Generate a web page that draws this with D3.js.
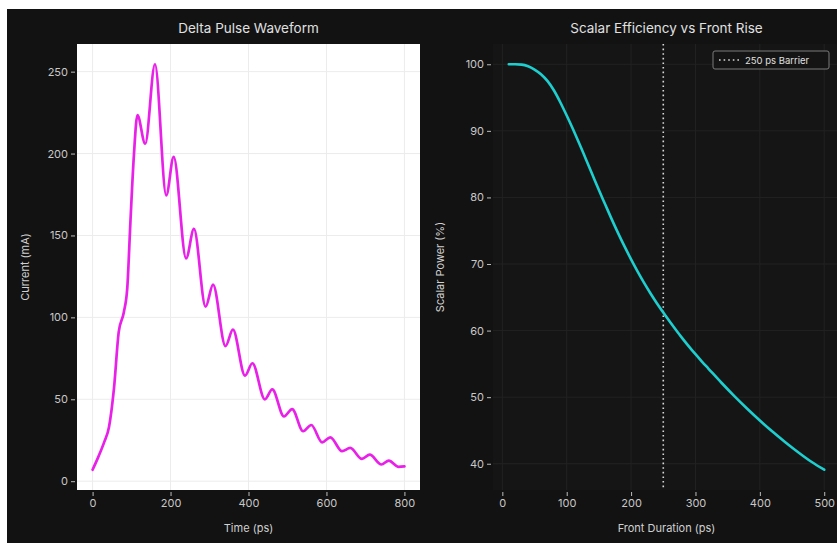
<!DOCTYPE html>
<html><head><meta charset="utf-8">
<script src="https://cdn.jsdelivr.net/npm/d3@7"></script>
<style>
html,body{margin:0;padding:0;background:#fff;}
svg{display:block;font-family:Inter, "DejaVu Sans", sans-serif;}
</style></head>
<body>
<svg id="c" width="837" height="543"></svg>
<script>
// Left panel: Delta Pulse Waveform
const pulseTime = [0,15,30,42,55,67,80,89,97,106,115,135,160,189,208,240,260,290,309,341,360,391,410,442,461,491,512,540,561,589,610,640,661,691,711,741,760,785,800];
const pulseCurrent = [7,15,24,33,57,91,103,118,158,199,223.5,206,254.5,174.5,198,136,154,106.5,120,82.5,92.5,64.5,72,50,56,39.5,44,30.5,34.3,23.7,26.8,18.3,20.3,13.6,16.2,10.2,12.6,8.8,9];
const pulseXTicks = [0,200,400,600,800];
const pulseYTicks = [0,50,100,150,200,250];

// Right panel: Scalar Efficiency vs Front Rise
const frontDuration = [10,20,30,40,50,60,70,80,90,100,110,120,130,140,150,160,170,180,190,200,210,220,230,240,250,260,270,280,290,300,310,320,340,360,380,400,420,440,460,480,500];
const scalarPower = [100,100,99.95,99.7,99.2,98.5,97.5,96.1,94.3,92.3,90.2,88.0,85.7,83.4,81.1,78.9,76.7,74.6,72.6,70.7,68.9,67.2,65.6,64.1,62.7,61.35,60.05,58.8,57.6,56.45,55.35,54.3,52.2,50.2,48.3,46.5,44.8,43.2,41.7,40.3,39.1];
const effXTicks = [0,100,200,300,400,500];
const effYTicks = [40,50,60,70,80,90,100];
const barrier = 250;

const svg = d3.select("#c");
svg.append("rect").attr("x",7).attr("y",9).attr("width",830).attr("height",534).attr("fill","#121212");

function pad(ext){const r=ext[1]-ext[0];return [ext[0]-0.05*r, ext[1]+0.05*r];}

function panel(o){
  const g = svg.append("g");
  const x = d3.scaleLinear().domain(pad(d3.extent(o.xs))).range([o.x0,o.x1]);
  const y = d3.scaleLinear().domain(pad(d3.extent(o.ys))).range([o.y1,o.y0]);
  g.append("rect").attr("x",o.x0).attr("y",o.y0).attr("width",o.x1-o.x0).attr("height",o.y1-o.y0).attr("fill",o.face);
  g.selectAll(".gx").data(o.xt).enter().append("line")
    .attr("x1",d=>x(d)).attr("x2",d=>x(d)).attr("y1",o.y0).attr("y2",o.y1)
    .attr("stroke",o.grid).attr("stroke-width",1);
  g.selectAll(".gy").data(o.yt).enter().append("line")
    .attr("y1",d=>y(d)).attr("y2",d=>y(d)).attr("x1",o.x0).attr("x2",o.x1)
    .attr("stroke",o.grid).attr("stroke-width",1);
  const ax = g.append("g").attr("transform",`translate(0,${o.y1})`)
    .call(d3.axisBottom(x).tickValues(o.xt).tickSize(4).tickPadding(5).tickFormat(d3.format("d")));
  const ay = g.append("g").attr("transform",`translate(${o.x0},0)`)
    .call(d3.axisLeft(y).tickValues(o.yt).tickSize(4).tickPadding(5).tickFormat(d3.format("d")));
  [ax,ay].forEach(a=>{
    a.select(".domain").remove();
    a.selectAll(".tick line").attr("stroke","#bdbdbd").attr("transform", a===ax?"translate(0,2)":"translate(-2,0)");
    a.selectAll(".tick text").attr("fill","#c8c8c8").attr("font-size",11).attr("font-family","Inter, sans-serif");
  });
  g.append("text").attr("x",(o.x0+o.x1)/2).attr("y",33).attr("text-anchor","middle")
    .attr("fill","#e0e0e0").attr("font-size",13.5).text(o.title);
  g.append("text").attr("x",(o.x0+o.x1)/2).attr("y",532).attr("text-anchor","middle")
    .attr("fill","#d0d0d0").attr("font-size",11).text(o.xlabel);
  g.append("text").attr("transform",`translate(${o.ylx},${(o.y0+o.y1)/2}) rotate(-90)`).attr("text-anchor","middle")
    .attr("fill","#d0d0d0").attr("font-size",11).text(o.ylabel);
  return {g,x,y};
}

const L = panel({x0:77,x1:420,y0:44,y1:490,xs:pulseTime,ys:pulseCurrent,xt:pulseXTicks,yt:pulseYTicks,
  face:"#ffffff",grid:"#ececec",title:"Delta Pulse Waveform",xlabel:"Time (ps)",ylabel:"Current (mA)",ylx:29});
L.g.append("path").datum(pulseTime.map((t,i)=>[t,pulseCurrent[i]]))
  .attr("d",d3.line().x(d=>L.x(d[0])).y(d=>L.y(d[1])).curve(d3.curveMonotoneX))
  .attr("fill","none").attr("stroke","#e820e8").attr("stroke-width",2.7).attr("stroke-linejoin","round").attr("stroke-linecap","round");

const R = panel({x0:493,x1:840,y0:44,y1:490,xs:frontDuration,ys:scalarPower,xt:effXTicks,yt:effYTicks,
  face:"#151515",grid:"#222222",title:"Scalar Efficiency vs Front Rise",xlabel:"Front Duration (ps)",ylabel:"Scalar Power (%)",ylx:444});
R.g.append("line").attr("x1",R.x(barrier)).attr("x2",R.x(barrier)).attr("y1",44).attr("y2",490)
  .attr("stroke","#d8d8d8").attr("stroke-width",1.6).attr("stroke-dasharray","1.6,3");
R.g.append("path").datum(frontDuration.map((t,i)=>[t,scalarPower[i]]))
  .attr("d",d3.line().x(d=>R.x(d[0])).y(d=>R.y(d[1])).curve(d3.curveMonotoneX))
  .attr("fill","none").attr("stroke","#1fcfcf").attr("stroke-width",2.6).attr("stroke-linecap","round");
const lg = R.g.append("g");
lg.append("rect").attr("x",713).attr("y",51).attr("width",116).attr("height",18).attr("rx",2)
  .attr("fill","#141414").attr("stroke","#7a7a7a").attr("stroke-width",1);
lg.append("line").attr("x1",719).attr("x2",739).attr("y1",60).attr("y2",60)
  .attr("stroke","#d8d8d8").attr("stroke-width",1.6).attr("stroke-dasharray","1.6,3");
lg.append("text").attr("x",745).attr("y",63.5).attr("fill","#e0e0e0").attr("font-size",9.5).text("250 ps Barrier");
</script>
</body></html>
